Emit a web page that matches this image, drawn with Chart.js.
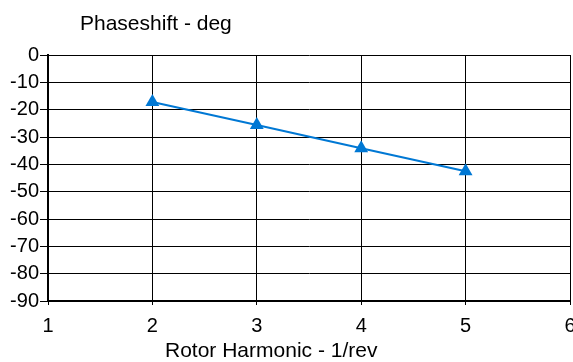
<!DOCTYPE html>
<html>
<head>
<meta charset="utf-8">
<script src="https://cdn.jsdelivr.net/npm/chart.js@4/dist/chart.umd.min.js"></script>
<style>
  html, body { margin: 0; padding: 0; background: #fff; }
  #wrap { width: 573px; height: 362px; }
</style>
</head>
<body>
<div id="wrap"><canvas id="c" width="573" height="362"></canvas></div>
<script>
// Phase shift per rotor harmonic
const harmonics = [2, 3, 4, 5];
const phaseShift = [-17.2, -25.6, -34.1, -42.5];

// Axis ranges and tick spacing
const xRange = [1, 6];
const xStep = 1;
const yRange = [-90, 0];
const yStep = 10;

// Axis captions
const yTitle = 'Phaseshift - deg';
const xTitle = 'Rotor Harmonic - 1/rev';

const FONT = '"Liberation Sans", Arial, Helvetica, sans-serif';
const BLUE = 'rgb(0,120,212)';

// Captions are drawn relative to the plot area: the y caption above it,
// the x caption below the tick labels.
const axisCaptions = {
  id: 'axisCaptions',
  afterDraw(chart) {
    const { ctx, chartArea } = chart;
    ctx.save();
    ctx.fillStyle = '#000';
    ctx.textBaseline = 'alphabetic';
    ctx.textAlign = 'left';
    ctx.font = '21px ' + FONT;
    ctx.fillText(yTitle, chartArea.left + 32, chartArea.top - 25);
    ctx.fillText(xTitle, chartArea.left + 117, chartArea.bottom + 56);
    ctx.restore();
  }
};

new Chart(document.getElementById('c'), {
  type: 'scatter',
  data: {
    datasets: [{
      data: harmonics.map((x, i) => ({ x: x, y: phaseShift[i] })),
      showLine: true,
      borderColor: BLUE,
      backgroundColor: BLUE,
      borderWidth: 2,
      pointStyle: 'triangle',
      pointRadius: 8,
      pointHoverRadius: 8,
      pointBorderWidth: 0
    }]
  },
  options: {
    responsive: false,
    animation: false,
    events: [],
    layout: { autoPadding: false, padding: { top: 55, right: 3, bottom: 0, left: 0 } },
    plugins: {
      legend: { display: false },
      tooltip: { enabled: false },
      title: { display: false }
    },
    scales: {
      x: {
        type: 'linear',
        min: xRange[0],
        max: xRange[1],
        ticks: {
          stepSize: xStep,
          color: '#000',
          font: { family: FONT, size: 20 },
          padding: 9,
          maxRotation: 0
        },
        grid: { color: '#000', lineWidth: 1, tickLength: 4 },
        border: { color: '#000', width: 2 },
        afterFit(scale) {
          scale.height = 61;
          scale.paddingLeft = 0;
          scale.paddingRight = 0;
        }
      },
      y: {
        min: yRange[0],
        max: yRange[1],
        ticks: {
          stepSize: yStep,
          color: '#000',
          font: { family: FONT, size: 20 },
          padding: 1
        },
        grid: { color: '#000', lineWidth: 1, tickLength: 8 },
        border: { color: '#000', width: 2 },
        afterFit(scale) {
          scale.width = 48;
          scale.paddingTop = 0;
          scale.paddingBottom = 0;
        }
      }
    }
  },
  plugins: [axisCaptions]
});
</script>
</body>
</html>
